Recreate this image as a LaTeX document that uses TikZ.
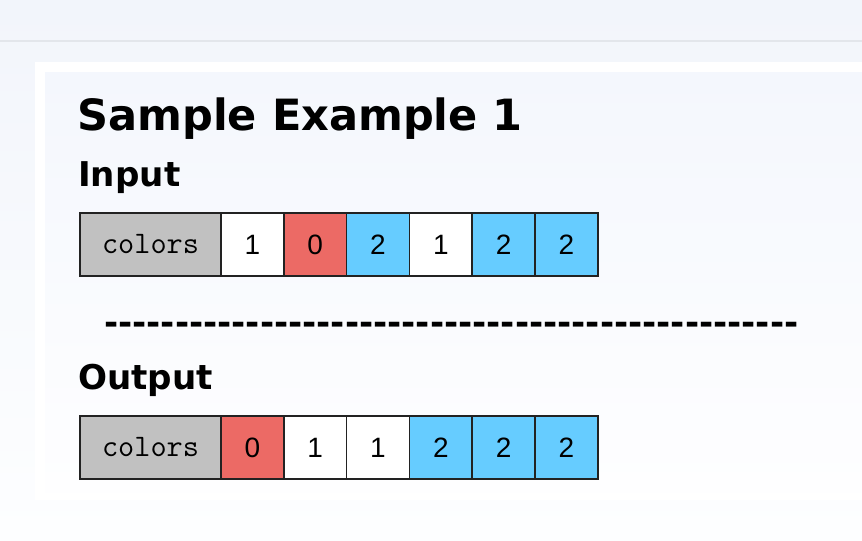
\documentclass[tikz,border=0pt]{standalone}
\usepackage{fontspec}
\setmainfont{DejaVu Sans}
\newfontfamily\numfont{Liberation Sans}
\definecolor{bgtop}{HTML}{F2F5FB}
\definecolor{bgbot}{HTML}{FDFEFF}
\definecolor{rulecol}{HTML}{E3E6EB}
\definecolor{paneltop}{HTML}{F4F7FD}
\definecolor{panelbot}{HTML}{FEFEFF}
\definecolor{cgrey}{HTML}{C1C1C1}
\definecolor{cred}{HTML}{EC6A65}
\definecolor{cblue}{HTML}{66CCFF}
\definecolor{cline}{HTML}{222222}
\tikzset{
  cell/.style={draw=cline, line width=1.1pt, minimum width=47.1pt, minimum height=47.25pt,
    inner sep=0pt, outer sep=0pt, anchor=west, font=\numfont\fontsize{21}{21}\selectfont},
  namecell/.style={cell, fill=cgrey, minimum width=105.75pt,
    font=\ttfamily\addfontfeatures{FakeBold=0.7}\fontsize{23.5}{23.5}\selectfont},
  wcell/.style={cell, fill=white},
  rcell/.style={cell, fill=cred},
  bcell/.style={cell, fill=cblue},
  heading/.style={anchor=base west, inner sep=0pt, font=\bfseries\fontsize{25.6}{25.6}\selectfont},
  titletext/.style={anchor=base west, inner sep=0pt, font=\bfseries\fontsize{32.3}{32.3}\selectfont}
}
\begin{document}
\begin{tikzpicture}[x=0.75pt,y=-0.75pt]
\useasboundingbox (0,0) rectangle (862,540);
% background
\shade[top color=bgtop, bottom color=bgbot] (0,0) rectangle (862,540);
\draw[rulecol, line width=1.5pt] (0,41) -- (862,41);
\fill[fill=white] (35,62) rectangle (862,500);
\shade[top color=paneltop, bottom color=panelbot] (45,72) rectangle (862,492);
% texts
\node[titletext] (title) at (77,130.5) {Sample Example 1};
\node[heading] (inlab) at (78,186) {Input};
\node[heading] (dash) at (104,334) {\foreach \i in {1,...,49}{-\kern0pt}};
\node[heading] (outlab) at (78,389) {Output};
% input row
\node[namecell] (ic) at (80,244.5) {colors};
\node[wcell] (i1) at (ic.east) {1};
\node[rcell] (i2) at (i1.east) {0};
\node[bcell] (i3) at (i2.east) {2};
\node[wcell] (i4) at (i3.east) {1};
\node[bcell] (i5) at (i4.east) {2};
\node[bcell] (i6) at (i5.east) {2};
% output row
\node[namecell] (oc) at (80,447.5) {colors};
\node[rcell] (o1) at (oc.east) {0};
\node[wcell] (o2) at (o1.east) {1};
\node[wcell] (o3) at (o2.east) {1};
\node[bcell] (o4) at (o3.east) {2};
\node[bcell] (o5) at (o4.east) {2};
\node[bcell] (o6) at (o5.east) {2};
\end{tikzpicture}
\end{document}
